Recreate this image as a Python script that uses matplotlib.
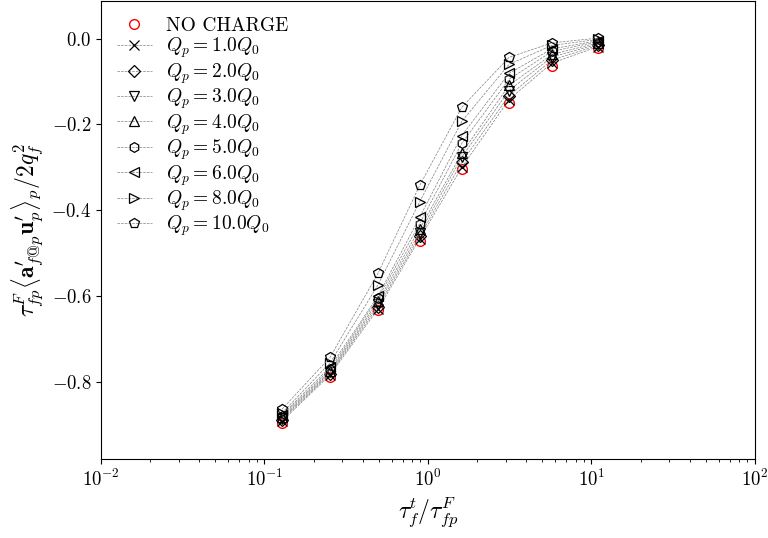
import matplotlib
matplotlib.use('Agg')
import matplotlib.pyplot as plt
import numpy as np

plt.rcParams['font.family'] = 'serif'
plt.rcParams['font.serif'] = ['cmr10']
plt.rcParams['mathtext.fontset'] = 'cm'
plt.rcParams['axes.formatter.use_mathtext'] = True

# time-scale ratio tau_f^t / tau_fp^F
tau_ratio = [0.128, 0.252, 0.494, 0.89, 1.61, 3.13, 5.73, 10.96]

no_charge = [-0.895, -0.787, -0.633, -0.472, -0.303, -0.151, -0.064, -0.021]

charges = [1.0, 2.0, 3.0, 4.0, 5.0, 6.0, 8.0, 10.0]
markers = ['x', 'D', 'v', '^', 'h', '<', '>', 'p']
corr = [
    [-0.891, -0.783, -0.630, -0.466, -0.300, -0.142, -0.057, -0.019],
    [-0.888, -0.780, -0.624, -0.460, -0.288, -0.133, -0.050, -0.016],
    [-0.885, -0.777, -0.618, -0.452, -0.276, -0.121, -0.043, -0.013],
    [-0.882, -0.774, -0.612, -0.443, -0.267, -0.109, -0.037, -0.010],
    [-0.879, -0.770, -0.605, -0.431, -0.244, -0.095, -0.030, -0.007],
    [-0.876, -0.765, -0.600, -0.416, -0.226, -0.081, -0.024, -0.005],
    [-0.872, -0.755, -0.574, -0.380, -0.193, -0.060, -0.016, -0.002],
    [-0.863, -0.742, -0.547, -0.342, -0.160, -0.044, -0.010, 0.001],
]

fig = plt.figure(figsize=(7.68, 5.38), dpi=100)
ax = fig.add_axes([0.1315, 0.1468, 0.8515, 0.851])

ax.plot(tau_ratio, no_charge, 'o', mfc='none', mec='red', ms=7, mew=1.0,
        ls='none', label='NO CHARGE')
for q, m, y in zip(charges, markers, corr):
    ms = 6 if m == 'D' else 7
    ax.plot(tau_ratio, y, ls='--', lw=0.5, color='gray', marker=m,
            mfc='none', mec='black', ms=ms, mew=0.9,
            label=r'$Q_p = %.1fQ_0$' % q)

ax.set_xscale('log')
ax.set_xlim(1e-2, 1e2)
ax.set_ylim(-0.979, 0.087)
ax.set_yticks([-0.8, -0.6, -0.4, -0.2, 0.0])
ax.tick_params(labelsize=13.5, length=3.5, width=0.8)
ax.tick_params(which='minor', length=2, width=0.6)
ax.set_xlabel(r'$\tau_f^t/\tau_{fp}^F$', fontsize=17)
ax.set_ylabel(r'$\tau_{fp}^F\langle\mathbf{a}^{\prime}_{f@p}\mathbf{u}^{\prime}_p\rangle_p/2q_f^2$',
              fontsize=17)

ax.legend(loc='upper left', frameon=False, fontsize=14, numpoints=1,
          handlelength=1.8, labelspacing=0.05, borderaxespad=0.4,
          handletextpad=0.75)

fig.savefig('out.png', dpi=100)
